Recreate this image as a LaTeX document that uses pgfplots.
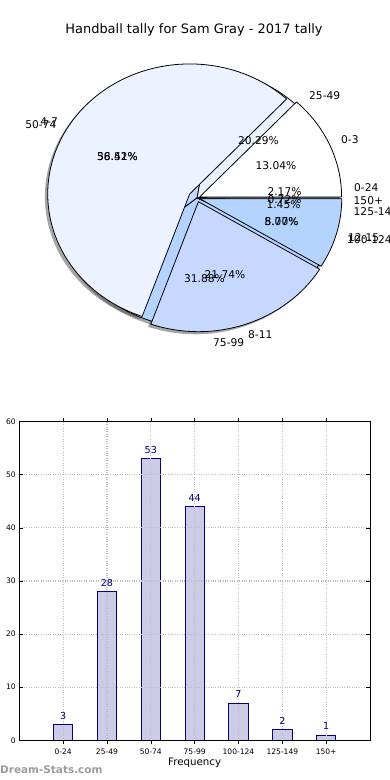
\documentclass[border=0pt]{standalone}
\usepackage{pgfplots}
\pgfplotsset{compat=1.18}
\usepackage{fontspec}
\setmainfont{DejaVu Sans}
\definecolor{cA}{RGB}{255,255,255}
\definecolor{cB}{RGB}{236,242,255}
\definecolor{cC}{RGB}{198,216,255}
\definecolor{cD}{RGB}{180,212,255}
\definecolor{barfill}{RGB}{204,204,230}
\definecolor{baredge}{RGB}{0,0,128}
\definecolor{wm}{RGB}{155,155,155}
\definecolor{gridc}{RGB}{190,190,190}
% #1 explode, #2 start count, #3 end count (total 138)
\newcommand\piegeom[3]{%
  \pgfmathsetmacro\sa{#2/138*360}%
  \pgfmathsetmacro\ea{#3/138*360}%
  \pgfmathsetmacro\ma{(\sa+\ea)/2}%
  \pgfmathsetmacro\ox{#1*cos(\ma)}%
  \pgfmathsetmacro\oy{#1*sin(\ma)}%
  \pgfmathsetmacro\px{\ox+cos(\sa)}%
  \pgfmathsetmacro\py{\oy+sin(\sa)}%
  \pgfmathsetmacro\sx{\ox-0.02}%
  \pgfmathsetmacro\sy{\oy-0.02}%
  \pgfmathsetmacro\qx{\px-0.02}%
  \pgfmathsetmacro\qy{\py-0.02}%
}
\newcommand\pieslice[4]{%
  \piegeom{#1}{#2}{#3}%
  \edef\temp{\noexpand\filldraw[fill=#4,draw=black,line width=0.8bp,line join=round] (axis cs:\ox,\oy) -- (axis cs:\px,\py) arc[start angle=\sa,end angle=\ea,x radius=142bp,y radius=130bp] -- cycle;}%
  \temp}
\newcommand\pieshadow[3]{%
  \piegeom{#1}{#2}{#3}%
  \edef\temp{\noexpand\fill[black!70,opacity=0.5] (axis cs:\sx,\sy) -- (axis cs:\qx,\qy) arc[start angle=\sa,end angle=\ea,x radius=142bp,y radius=130bp] -- cycle;}%
  \temp}
\begin{document}
\begin{tikzpicture}
% ---------- pie chart ----------
\begin{axis}[at={(0bp,348bp)}, anchor=south west, x=142bp, y=130bp,
  xmin=-1.3873, xmax=1.3592, ymin=-1.8, ymax=1.446, hide axis, clip=false]
% shadows
\pieshadow{0}{0}{3}\pieshadow{0}{3}{31}\pieshadow{0}{31}{84}\pieshadow{0}{84}{128}
\pieshadow{0}{128}{135}\pieshadow{0}{135}{137}\pieshadow{0}{137}{138}
\pieshadow{0.02}{0}{18}\pieshadow{0.06}{18}{96}\pieshadow{0.03}{96}{126}\pieshadow{0.02}{126}{138}
% pie A: 0-24, 25-49, 50-74, 75-99, 100-124, 125-149, 150+  (3,28,53,44,7,2,1)
\pieslice{0}{0}{3}{cA}
\pieslice{0}{3}{31}{cB}
\pieslice{0}{31}{84}{cC}
\pieslice{0}{84}{128}{cD}
\pieslice{0}{128}{135}{cA}
\pieslice{0}{135}{137}{cB}
\pieslice{0}{137}{138}{cC}
% pie B: 0-3, 4-7, 8-11, 12-15  (18,78,30,12)
\pieslice{0.02}{0}{18}{cA}
\pieslice{0.06}{18}{96}{cB}
\pieslice{0.03}{96}{126}{cC}
\pieslice{0.02}{126}{138}{cD}
\end{axis}
% ---------- bar chart ----------
\begin{axis}[at={(19.3bp,39.7bp)}, anchor=south west, scale only axis,
  width=350.7bp, height=318.6bp,
  xmin=-1, xmax=7, ymin=0, ymax=60,
  ytick={0,10,...,60}, xtick={0,...,6},
  xticklabels={0-24,25-49,50-74,75-99,100-124,125-149,150+},
  axis on top,
  grid=major, grid style={dotted, gridc, line width=1.1bp},
  tick align=inside, major tick length=4bp,
  tick style={black, line width=0.6bp},
  axis line style={line width=0.9bp},
  ticklabel style={font=\fontsize{7.6}{8}\selectfont},
  xticklabel style={yshift=-1.2bp},
  /pgf/number format/assume math mode=true,
  xlabel={Frequency},
  xlabel style={font=\fontsize{10.3}{12}\selectfont, at={(axis description cs:0.5,0)}, anchor=base, yshift=-24.8bp},
  ybar, bar width=19.3bp,
  nodes near coords,
  nodes near coords style={font=\fontsize{9.6}{11}\selectfont, text=baredge, anchor=base, inner sep=0pt, yshift=5.2bp}]
\addplot[fill=barfill, draw=baredge, line width=0.8bp] coordinates {(0,3) (1,28) (2,53) (3,44) (4,7) (5,2) (6,1)};
\end{axis}
% ---------- texts ----------
\begin{scope}[shift={(0,780bp)}, x=1bp, y=-1bp]
\node[anchor=base, font=\fontsize{13}{15}\selectfont] at (194,33.5) {Handball tally for Sam Gray - 2017 tally};
\begin{scope}[every node/.style={font=\fontsize{10.7}{12}\selectfont, inner sep=0pt}]
\node[anchor=base west] at (354,191.6) {0-24};
\node[anchor=base west] at (309,99.9) {25-49};
\node[anchor=base east] at (56.5,128.9) {50-74};
\node[anchor=base west] at (213,346.9) {75-99};
\node[anchor=base west] at (347,243.9) {100-124};
\node[anchor=base west] at (353.5,215.4) {125-149};
\node[anchor=base west] at (353.5,204.9) {150+};
\node[anchor=base west] at (341,143.9) {0-3};
\node[anchor=base east] at (58,125.4) {4-7};
\node[anchor=base west] at (248,338.9) {8-11};
\node[anchor=base west] at (348,241.2) {12-15};
\node[anchor=base] at (284.5,195.6) {2.17\%};
\node[anchor=base] at (258.5,144.6) {20.29\%};
\node[anchor=base] at (117.5,160.6) {38.41\%};
\node[anchor=base] at (204.5,282.9) {31.88\%};
\node[anchor=base] at (281.5,225.6) {5.07\%};
\node[anchor=base] at (283.5,208.2) {1.45\%};
\node[anchor=base] at (284.5,203.9) {0.72\%};
\node[anchor=base] at (276,169.9) {13.04\%};
\node[anchor=base] at (117.5,160.6) {56.52\%};
\node[anchor=base] at (225,278.9) {21.74\%};
\node[anchor=base] at (281.5,225.6) {8.70\%};
\end{scope}
\node[anchor=base west, inner sep=0pt, text=wm, font=\bfseries\fontsize{10.5}{12}\selectfont] at (0,773.5) {Dream-Stats.com};
\end{scope}
\pgfresetboundingbox
\path[use as bounding box] (0,0) rectangle (390bp,780bp);
\end{tikzpicture}
\end{document}
